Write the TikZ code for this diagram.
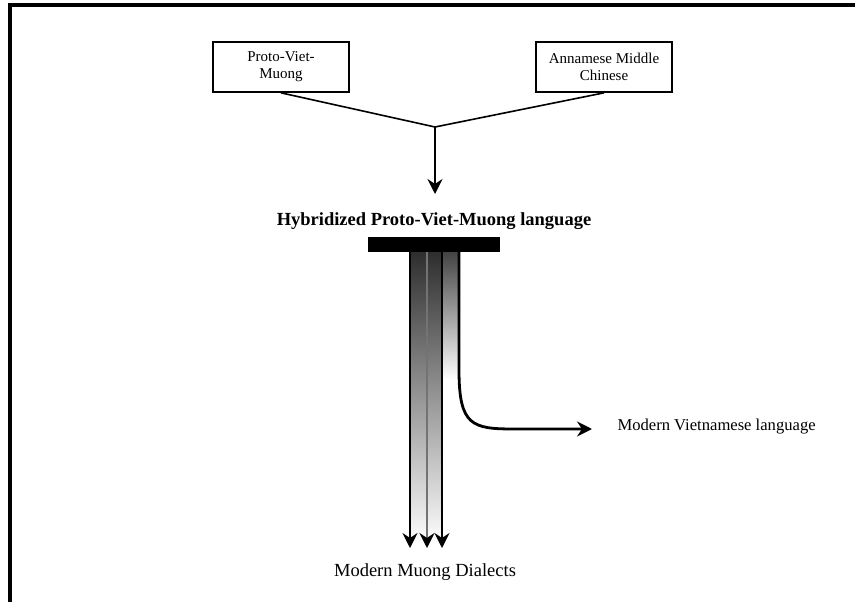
\documentclass[tikz,border=0pt]{standalone}
\usepackage{fontspec}
\setmainfont{Liberation Serif}
\usetikzlibrary{arrows.meta,calc}
\definecolor{streamdark}{HTML}{2E2E2E}
\newcommand{\boxtext}{\fontsize{15}{17}\selectfont}
\newcommand{\labeltext}{\fontsize{18.5}{21}\selectfont}

\begin{document}
\begin{tikzpicture}[x=1pt,y=-1pt,
  langbox/.style={draw,line width=1.7pt,minimum width=136pt,minimum height=50pt,align=center,inner sep=2pt,font=\boxtext},
  tip/.style={-{Stealth[length=15pt,width=15pt,inset=5pt]}}]
\useasboundingbox (0,0) rectangle (855,602);
\draw[line width=3.4pt] (10,602) -- (10,5) -- (856,5);

\node[langbox] (pvm) at (281,67) {Proto-Viet-\\Muong};
\node[langbox] (amc) at (604,67) {Annamese Middle\\Chinese};
\coordinate (join) at (435,127);
\draw[line width=1.6pt] (pvm.south) -- (join) -- (amc.south);
\draw[line width=1.7pt,tip] (join) -- (435,194);

\node[font=\labeltext\bfseries] (hybrid) at (434,221) {Hybridized Proto-Viet-Muong language};

% fading streams below the bar
\shade[top color=streamdark,middle color=black!13,bottom color=white] (410,252) rectangle (442,545);
\shade[top color=streamdark!90,middle color=black!28,bottom color=white] (442,252) rectangle (459,380);
\node[fill=black,minimum width=132pt,minimum height=15pt,inner sep=0pt] (bar) at (434,244.5) {};

\node[font=\labeltext] (muong) at (425,572) {Modern Muong Dialects};
\node[font=\fontsize{16.6}{20}\selectfont,anchor=west] (viet) at (614,427) {Modern Vietnamese language};
\coordinate (mtip) at (427,548);

\draw[line width=2pt,tip] ($(bar.south)+(-24,0)$) -- ($(bar.south |- mtip)+(-24,0)$);
\draw[line width=1.2pt,draw=black!55,-{Stealth[length=15pt,width=15pt,inset=5pt,fill=black,color=black]}] ($(bar.south)+(-7,0)$) -- ($(bar.south |- mtip)+(-7,0)$);
\draw[line width=2pt,tip] ($(bar.south)+(8,0)$) -- ($(bar.south |- mtip)+(8,0)$);
\draw[line width=2.8pt,tip] ($(bar.south)+(25,0)$) -- (459,370) .. controls (459,426) and (472,429) .. (515,429) -- ($(viet.west)+(-22,2)$);
\end{tikzpicture}
\end{document}
